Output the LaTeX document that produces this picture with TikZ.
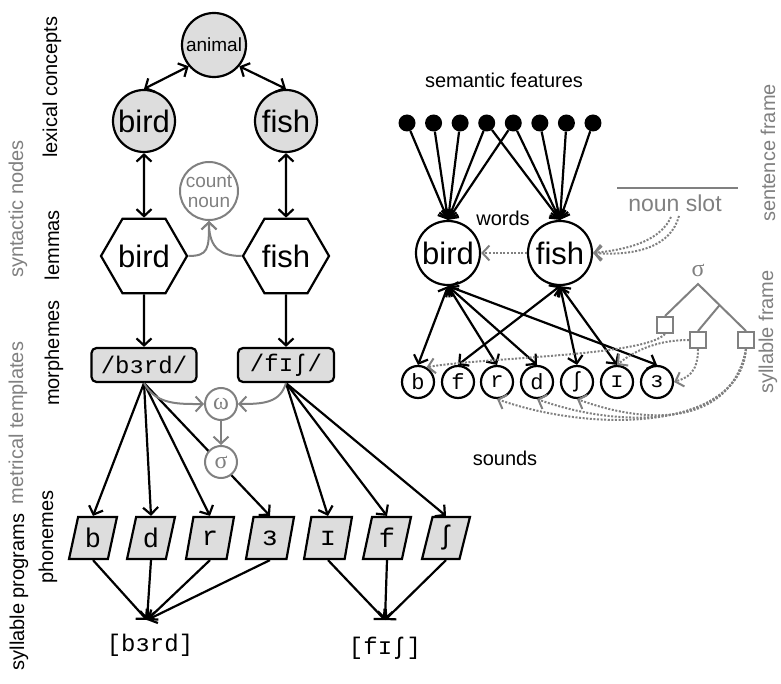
\documentclass[tikz,border=0pt]{standalone}
\usepackage{fontspec}
\setmainfont{Liberation Sans}
\setmonofont{Liberation Mono}
\newfontfamily\grkfont{Liberation Serif}
\usetikzlibrary{arrows.meta,shapes.geometric,calc}
\definecolor{fillg}{HTML}{DDDDDD}
\definecolor{tg}{HTML}{808080}
\newcommand{\myfs}[1]{\fontsize{#1}{#1}\selectfont}
\tikzset{
  every node/.style={inner sep=0pt},
  lw/.style={line width=2.2pt},
  tip/.style={-{Straight Barb[length=7pt,width=15pt]}},
  tips/.style={{Straight Barb[length=7pt,width=15pt]}-{Straight Barb[length=7pt,width=15pt]}},
  barrow/.style={draw, lw, tip},
  bboth/.style={draw, lw, tips},
  garrow/.style={draw=tg, line width=2pt, tip},
  dotarr/.style={draw=tg, line width=2pt, dash pattern=on 2pt off 1.6pt, tip},
  lexc/.style={circle, draw, lw, fill=fillg, minimum size=62pt, font=\myfs{31}},
  hexbox/.style={regular polygon, regular polygon sides=6, draw, lw, minimum size=86pt, font=\myfs{31}},
  morph/.style={rectangle, rounded corners=5pt, draw, lw, fill=fillg, minimum height=34pt, font=\ttfamily\myfs{24}},
  gcirc/.style={circle, draw=tg, line width=2pt, text=tg, fill=white, minimum size=32pt, font=\grkfont\myfs{24}},
  phon/.style={trapezium, trapezium left angle=76, trapezium right angle=104, trapezium stretches=true, draw, lw, fill=fillg, minimum height=42pt, minimum width=48pt, font=\ttfamily\myfs{27}},
  snd/.style={circle, draw, lw, fill=white, minimum size=32pt, font=\ttfamily\myfs{22}},
  wordc/.style={circle, draw, lw, fill=white, minimum size=64pt, font=\myfs{31}},
  dotn/.style={circle, fill=black, minimum size=17pt},
  lab/.style={font=\myfs{20}, rotate=90},
  glab/.style={lab, text=tg},
  txt/.style={font=\myfs{20}},
  gsq/.style={rectangle, draw=tg, line width=2pt, minimum size=16pt},
}
\begin{document}
\begin{tikzpicture}[x=1pt,y=-1pt]
\useasboundingbox (0,0) rectangle (781,684);
% ---------- left side labels ----------
\node[lab]  (Llex)  at (52,87)  {lexical concepts};
\node[glab] (Lsyn)  at (18,209) {syntactic nodes};
\node[lab]  (Llem)  at (52,245) {lemmas};
\node[lab]  (Lmor)  at (54,353) {morphemes};
\node[glab] (Lmet)  at (18,423) {metrical templates};
\node[lab]  (Lpho)  at (48,537) {phonemes};
\node[lab]  (Lsyl)  at (19,592) {syllable programs};
% ---------- lexical concepts ----------
\node[lexc, font=\myfs{19}, minimum size=64pt] (animal) at (214,45) {animal};
\node[lexc] (lbird) at (144,121) {bird};
\node[lexc] (lfish) at (286,121) {fish};
\draw[bboth] (lbird.north) -- (animal.220);
\draw[bboth] (lfish.north) -- (animal.320);
% ---------- lemmas ----------
\node[circle, draw=tg, line width=2pt, text=tg, minimum size=58pt, align=center, font=\fontsize{19}{20}\selectfont] (count) at (209,191) {count\\noun};
\node[hexbox] (hbird) at (144,256) {bird};
\node[hexbox] (hfish) at (286,256) {fish};
\draw[bboth] (lbird.south) -- (hbird.north);
\draw[bboth] (lfish.south) -- (hfish.north);
\draw[garrow] (hbird.east) .. controls +(20,0) and +(0,28) .. (count.south);
\draw[garrow] (hfish.west) .. controls +(-20,0) and +(0,28) .. (count.south);
% ---------- morphemes ----------
\node[morph, minimum width=105pt] (mbird) at (144,365) {/bɜrd/};
\node[morph, minimum width=96pt] (mfish) at (286,365) {/fɪʃ/};
\draw[barrow] (hbird.south) -- (mbird.north);
\draw[barrow] (hfish.south) -- (mfish.north);
% ---------- phonemes ----------
\node[phon] (pb) at (93,538)  {b};
\node[phon] (pd) at (151,538) {d};
\node[phon] (pr) at (210,538) {r};
\node[phon] (pe) at (270,538) {ɜ};
\node[phon] (pi) at (328,538) {ɪ};
\node[phon] (pf) at (387,538) {f};
\node[phon] (ps) at (446,538) {ʃ};
\draw[barrow] (mbird.south) -- (pb.north);
\draw[barrow] (mbird.south) -- (pd.north);
\draw[barrow] (mbird.south) -- (pr.north);
\draw[barrow] (mbird.south) -- (pe.north);
\draw[barrow] (mfish.south) -- (pi.north);
\draw[barrow] (mfish.south) -- (pf.north);
\draw[barrow] (mfish.south) -- (ps.north);
% ---------- metrical templates ----------
\node[gcirc] (omega) at (221,404) {ω};
\node[gcirc] (sigma) at (221,462) {σ};
\draw[garrow] (mbird.south) .. controls +(12,22) and +(-25,0) .. (omega.west);
\draw[garrow] (mfish.south) .. controls +(-6,20) and +(25,0) .. (omega.east);
\draw[garrow] (omega.south) -- (sigma.north);
% ---------- syllable programs ----------
\coordinate (cb) at (147,620);
\coordinate (cf) at (385,620);
\node[font=\ttfamily\myfs{24}] (sbird) at (150,645) {[bɜrd]};
\node[font=\ttfamily\myfs{24}] (sfish) at (385,648) {[fɪʃ]};
\foreach \p in {pb,pd,pr,pe} \draw[barrow] (\p.south) -- (cb);
\foreach \p in {pi,pf,ps} \draw[barrow] (\p.south) -- (cf);
% ---------- right side ----------
\node[txt] (semf) at (504,80) {semantic features};
\foreach \i in {1,...,8} \node[dotn] (d\i) at ({407+26.57*(\i-1)},123) {};
\node[wordc] (wbird) at (448,253) {bird};
\node[wordc] (wfish) at (560,253) {fish};
\node[txt] (words) at (503,218) {words};
\foreach \i in {1,...,5} \draw[barrow] (d\i) -- (wbird.north);
\foreach \i in {4,...,8} \draw[barrow] (d\i) -- (wfish.north);
% sounds
\node[snd] (s1) at (418,382) {b};
\node[snd] (s2) at (458,382) {f};
\node[snd] (s3) at (497,382) {r};
\node[snd] (s4) at (537,382) {d};
\node[snd] (s5) at (577,382) {ʃ};
\node[snd] (s6) at (617,382) {ɪ};
\node[snd] (s7) at (657,382) {ɜ};
\node[txt] (sounds) at (505,458) {sounds};
\foreach \s in {s1,s3,s4,s7} \draw[bboth] (wbird.south) -- (\s.north);
\foreach \s in {s2,s5,s6} \draw[bboth] (wfish.south) -- (\s.north);
% sentence frame
\coordinate (nl1) at (617,188);
\coordinate (nl2) at (738,188);
\draw[draw=tg, line width=2.5pt] (nl1) -- (nl2);
\node[font=\myfs{23}, text=tg] (nslot) at (675,203) {noun slot};
\node[glab] (Lsent) at (768,153) {sentence frame};
\coordinate (ns1) at (671,217);
\coordinate (ns2) at (679,216);
\draw[dotarr] (ns1) .. controls +(-10,22) and +(40,-4) .. (wfish.east);
\draw[dotarr] (ns2) .. controls +(-8,30) and +(45,3) .. (wfish.east);
\draw[dotarr] (wfish.west) -- (wbird.east);
% syllable frame
\node[glab] (Lsylf) at (768,332) {syllable frame};
\node[text=tg, font=\grkfont\myfs{24}] (sig) at (698,270) {σ};
\coordinate (st) at (698,284);
\node[gsq] (q1) at (665,325) {};
\node[gsq] (q2) at (698,340) {};
\node[gsq] (q3) at (746,340) {};
\coordinate (br) at ($(st)!0.45!(q3.north)$);
\draw[draw=tg, line width=2pt] (q1.north) -- (st) -- (q3.north);
\draw[draw=tg, line width=2pt] (br) -- (q2.north);
\draw[dotarr] (q1.south) .. controls +(-20,22) and +(60,-10) .. (s1.60);
\draw[dotarr] (q2.west) .. controls +(-40,0) and +(10,-8) .. (s6.north);
\draw[dotarr] (q2.south) .. controls +(0,25) and +(12,-4) .. (s7.east);
\draw[dotarr] (q3.south) .. controls +(-6,80) and +(100,35) .. (s3.south);
\draw[dotarr] (q3.south) .. controls +(-10,76) and +(90,32) .. (s4.south);
\draw[dotarr] (q3.south) .. controls +(-14,72) and +(80,29) .. (s5.south);
\end{tikzpicture}
\end{document}
